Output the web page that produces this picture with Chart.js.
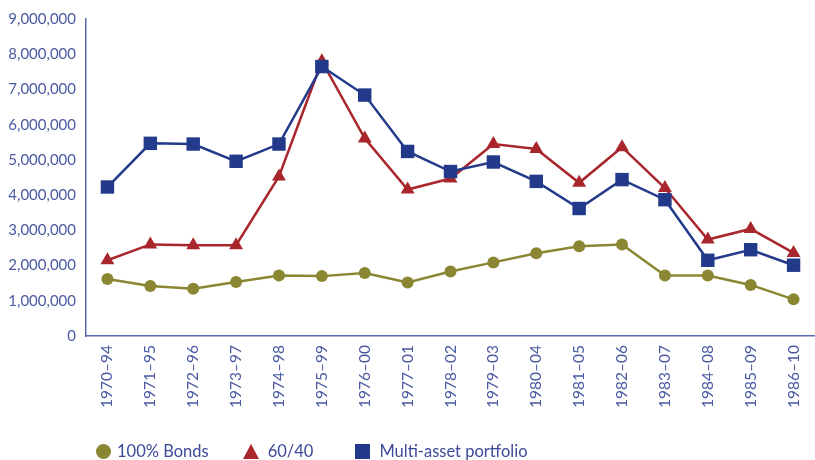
<!DOCTYPE html>
<html>
<head>
<meta charset="utf-8">
<script src="https://cdn.jsdelivr.net/npm/chart.js@4/dist/chart.umd.min.js"></script>
<style>
  html,body{margin:0;padding:0;background:#fff;}
  #wrap{position:relative;width:815px;height:460px;}
  #legend{position:absolute;left:96px;top:441px;font:16.5px Lato,sans-serif;color:#3b4a9a;display:flex;align-items:center;}
  #legend span.it{display:flex;align-items:center;margin-right:34px;}
  #legend span.it:nth-child(2){margin-right:42px;}
  #legend i{display:inline-block;margin-right:6px;}
</style>
</head>
<body>
<div id="wrap">
  <canvas id="chart" width="815" height="460"></canvas>
  <div id="legend"></div>
</div>
<script>
const periods = ['1970–94','1971–95','1972–96','1973–97','1974–98','1975–99','1976–00','1977–01','1978–02','1979–03','1980–04','1981–05','1982–06','1983–07','1984–08','1985–09','1986–10'];
const bonds = [1620000,1420000,1340000,1530000,1720000,1700000,1790000,1520000,1830000,2090000,2350000,2550000,2600000,1720000,1720000,1450000,1040000];
const sixtyForty = [2150000,2600000,2580000,2580000,4530000,7800000,5610000,4160000,4470000,5450000,5310000,4350000,5360000,4200000,2740000,3040000,2360000];
const multiAsset = [4230000,5470000,5450000,4960000,5450000,7650000,6840000,5240000,4670000,4940000,4390000,3620000,4440000,3870000,2150000,2450000,2010000];
const yTicks = [0,1000000,2000000,3000000,4000000,5000000,6000000,7000000,8000000,9000000];

const OLIVE = '#8a8632', RED = '#a8262c', BLUE = '#233a8a', TXT = '#4a5aa3', AXIS = '#5a68b0';

const series = [
  { label:'100% Bonds', data:bonds, color:OLIVE, style:'circle', r:6 },
  { label:'60/40', data:sixtyForty, color:RED, style:'triangle', r:8 },
  { label:'Multi-asset portfolio', data:multiAsset, color:BLUE, style:'rect', r:9.5 }
];

new Chart(document.getElementById('chart'), {
  type:'line',
  data:{
    labels: periods,
    datasets: series.map(s => ({
      label:s.label, data:s.data, borderColor:s.color, backgroundColor:s.color,
      borderWidth:2.5, pointStyle:s.style, pointRadius:s.r, pointHoverRadius:s.r,
      pointBorderWidth:0, tension:0, clip:false
    })).reverse()
  },
  options:{
    responsive:false, animation:false,
    layout:{ autoPadding:false, padding:{ top:18, right:-2, left:0, bottom:0 } },
    plugins:{ legend:{ display:false }, tooltip:{ enabled:false } },
    scales:{
      x:{
        offset:true,
        grid:{ display:false, drawTicks:false },
        border:{ display:true, color:AXIS, width:1.5 },
        ticks:{ color:TXT, font:{ family:'Lato', size:15.5 }, minRotation:90, maxRotation:90, padding:9, autoSkip:false },
        afterFit: s => { s.height = 124; s.paddingRight = 0; s.paddingLeft = 0; }
      },
      y:{
        min:0, max:9000000,
        afterBuildTicks: s => { s.ticks = yTicks.map(v => ({ value:v })); },
        grid:{ display:false, drawTicks:false },
        border:{ display:true, color:AXIS, width:1.5 },
        ticks:{ color:TXT, font:{ family:'Lato', size:15 }, padding:10,
          callback: v => Number(v).toLocaleString('en-US') },
        afterFit: s => { s.width = 86; }
      }
    }
  }
});

// legend
const lg = document.getElementById('legend');
for(const s of series){
  const it = document.createElement('span'); it.className='it';
  let mark;
  if(s.style==='circle') mark = `<i style="width:15px;height:15px;border-radius:50%;background:${s.color}"></i>`;
  else if(s.style==='triangle') mark = `<i style="width:0;height:0;border-left:8px solid transparent;border-right:8px solid transparent;border-bottom:15px solid ${s.color};margin-right:9px"></i>`;
  else mark = `<i style="width:15px;height:15px;background:${s.color};margin-right:9px"></i>`;
  it.innerHTML = mark + s.label;
  lg.appendChild(it);
}
</script>
</body>
</html>
